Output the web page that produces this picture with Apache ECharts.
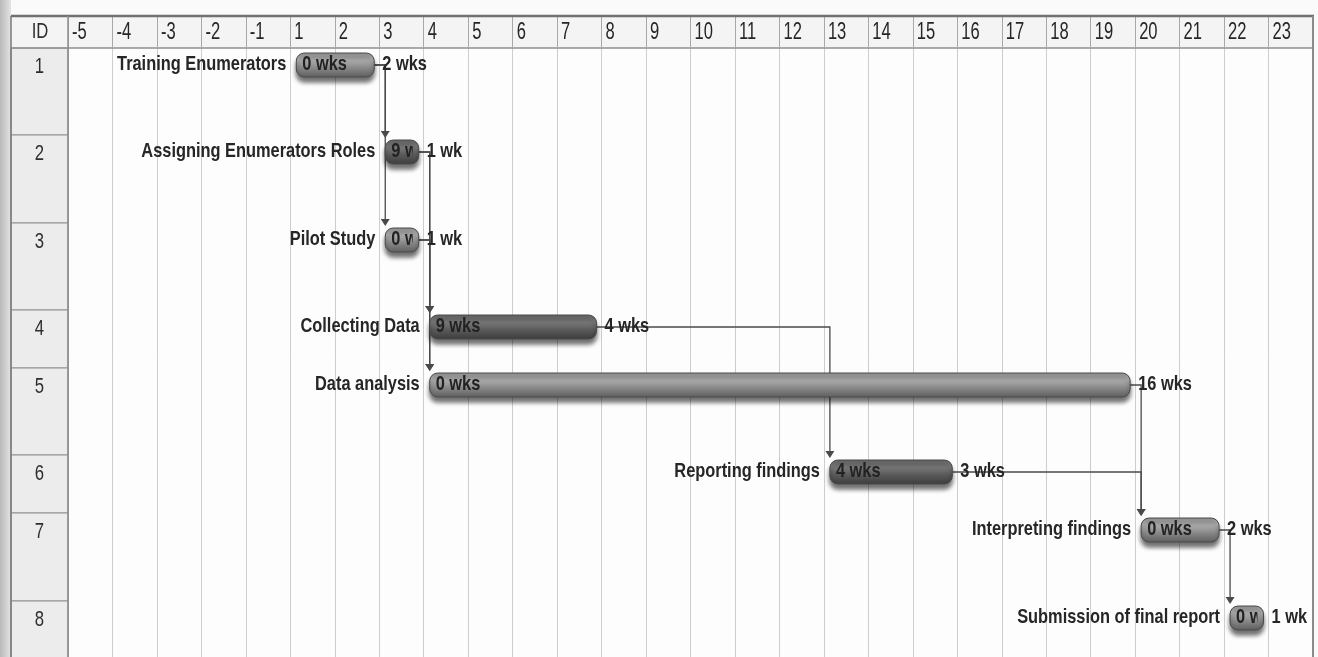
<!DOCTYPE html>
<html>
<head>
<meta charset="utf-8">
<title>Project schedule</title>
<script src="https://cdn.jsdelivr.net/npm/echarts@6/dist/echarts.min.js"></script>
<style>
  html, body { margin: 0; padding: 0; background: #fafafa; }
  #chart { width: 1318px; height: 657px; }
</style>
</head>
<body>
<div id="chart"></div>
<script>
// ---- schedule data ----
const tickLabels = ['-5', '-4', '-3', '-2', '-1', '1', '2', '3', '4', '5', '6', '7', '8', '9', '10',
  '11', '12', '13', '14', '15', '16', '17', '18', '19', '20', '21', '22', '23'];
const taskIds = [1, 2, 3, 4, 5, 6, 7, 8];
const taskNames = ['Training Enumerators', 'Assigning Enumerators Roles', 'Pilot Study', 'Collecting Data',
  'Data analysis', 'Reporting findings', 'Interpreting findings', 'Submission of final report'];
const startWeeks = [1, 3, 3, 4, 4, 13, 20, 22];
const durationWeeks = [2, 1, 1, 4, 16, 3, 2, 1];
const slackWeeks = [0, 9, 0, 9, 0, 4, 0, 0];
// predecessor -> successor (task indexes)
const links = [[0, 1], [0, 2], [1, 3], [2, 3], [1, 4], [2, 4], [3, 5], [4, 6], [5, 6], [6, 7]];

// ---- layout ----
const rowHeights = [87, 88, 87, 58, 87, 58, 88, 88];
const visibleHeight = 609;
const barOffset = 17;       // bar centre below the row top
const barHalf = 12;
const FONT = '"Liberation Sans", Arial, sans-serif';
const NARROW = 0.78;        // horizontal squeeze for the condensed task lettering

const rowTops = [];
rowHeights.reduce((acc, h) => { rowTops.push(acc); return acc + h; }, 0);

const colOf = w => tickLabels.indexOf(String(w));
const startCols = startWeeks.map(colOf);
const endCols = startCols.map((c, i) => c + durationWeeks[i]);
const durText = d => d + (d === 1 ? ' wk' : ' wks');

const barData = taskIds.map((id, i) => [startCols[i], endCols[i], rowTops[i], i]);
const linkData = links.map(([a, b]) => [endCols[a], rowTops[a], startCols[b], rowTops[b]]);
const idData = taskIds.map((id, i) => [0, rowTops[i], rowHeights[i], id]);
const headerData = tickLabels.map((t, i) => [i, 0]);

function barGradient(dark) {
  const c = dark
    ? ['#606060', '#7c7c7c', '#5b5b5b', '#3c3c3c']
    : ['#8c8c8c', '#b0b0b0', '#8a8a8a', '#5d5d5d'];
  return new echarts.graphic.LinearGradient(0, 0, 0, 1, [
    { offset: 0, color: c[0] }, { offset: 0.3, color: c[1] },
    { offset: 0.6, color: c[2] }, { offset: 1, color: c[3] }
  ]);
}

// condensed label anchored at (x, y)
function narrowText(text, x, y, align, extra, scale) {
  const sx = scale || NARROW;
  return {
    type: 'text', x: x, y: y, scaleX: sx, scaleY: 1,
    style: Object.assign({
      text: text, x: 0, y: 0, align: align, verticalAlign: 'middle',
      fontFamily: FONT, fontWeight: 'bold', fontSize: 21, fill: '#262626'
    }, extra || {})
  };
}

function renderBar(params, api) {
  const i = api.value(3);
  const s = api.value(0), e = api.value(1), top = api.value(2);
  const ps = api.coord([s, top + barOffset]);
  const pe = api.coord([e, top + barOffset]);
  const x0 = ps[0] + 6, x1 = pe[0] - 5, yc = ps[1];
  const dark = slackWeeks[i] > 0;
  return {
    type: 'group',
    children: [
      {
        type: 'rect',
        shape: { x: x0, y: yc - barHalf, width: x1 - x0, height: barHalf * 2, r: 8 },
        style: {
          fill: barGradient(dark), stroke: '#4a4a4a', lineWidth: 1,
          shadowBlur: 4, shadowOffsetY: 5, shadowColor: 'rgba(0,0,0,0.55)'
        }
      },
      {
        // slack label, cut off at the bar's right end
        type: 'group',
        clipPath: { type: 'rect', shape: { x: x0, y: yc - barHalf - 4, width: x1 - x0 - 6, height: barHalf * 2 + 8 } },
        children: [narrowText(slackWeeks[i] + ' wks', x0 + 6, yc - 1, 'left', { fill: '#222' })]
      },
      narrowText(durText(durationWeeks[i]), pe[0] + 3, yc - 1, 'left'),
      narrowText(taskNames[i], x0 - 10, yc - 1, 'right')
    ]
  };
}

function renderLink(params, api) {
  const pa = api.coord([api.value(0), api.value(1) + barOffset]);
  const pb = api.coord([api.value(2), api.value(3) + barOffset]);
  const xFrom = pa[0] - 5, yFrom = pa[1];
  const xTurn = pb[0] + 6;
  const tip = pb[1] - barHalf - 2;
  return {
    type: 'group',
    children: [
      {
        type: 'polyline',
        shape: { points: [[xFrom, yFrom], [xTurn, yFrom], [xTurn, tip - 6]] },
        style: { stroke: '#4a4a4a', lineWidth: 1.3, fill: null }
      },
      {
        type: 'polygon',
        shape: { points: [[xTurn - 4.5, tip - 7], [xTurn + 4.5, tip - 7], [xTurn, tip]] },
        style: { fill: '#4a4a4a' }
      }
    ]
  };
}

function renderId(params, api) {
  const top = api.coord([0, api.value(1)]);
  const bottom = api.coord([0, api.value(1) + api.value(2)]);
  const x0 = 11, x1 = top[0];
  return {
    type: 'group',
    children: [
      {
        type: 'rect',
        shape: { x: x0, y: top[1], width: x1 - x0, height: bottom[1] - top[1] },
        style: { fill: '#ececec', stroke: '#8f8f8f', lineWidth: 1.2 }
      },
      narrowText(String(api.value(3)), (x0 + x1) / 2, top[1] + 19, 'center',
        { fontWeight: 'normal', fontSize: 22, fill: '#2e2e2e' }, 0.76)
    ]
  };
}

// week numbers in the header band, left-aligned in each column
function renderHeader(params, api) {
  const p = api.coord([api.value(0), 0]);
  return narrowText(tickLabels[params.dataIndex], p[0] + 4, p[1] - 15, 'left',
    { fontWeight: 'normal', fontSize: 23, fill: '#262626' }, 0.72);
}

const chart = echarts.init(document.getElementById('chart'), null, { renderer: 'canvas' });

chart.setOption({
  backgroundColor: '#fafafa',
  animation: false,
  grid: { left: 68, right: 5, top: 48, bottom: 0 },
  xAxis: {
    type: 'value', position: 'top', min: 0, max: tickLabels.length, interval: 1,
    axisLine: { show: true, lineStyle: { color: '#8f8f8f', width: 1.5 } },
    axisTick: { show: true, length: 31, lineStyle: { color: '#a8a8a8' } },
    axisLabel: { show: false },
    splitLine: { show: true, lineStyle: { color: '#cdcdcd', width: 1 } }
  },
  yAxis: {
    type: 'value', inverse: true, min: 0, max: visibleHeight,
    axisLine: { show: false }, axisTick: { show: false }, axisLabel: { show: false },
    splitLine: { show: false }
  },
  graphic: [
    { type: 'rect', z: -10, shape: { x: 0, y: 0, width: 11, height: 657 },
      style: { fill: new echarts.graphic.LinearGradient(0, 0, 1, 0, [
        { offset: 0, color: '#b9b9b9' }, { offset: 1, color: '#e4e4e4' }]) } },
    { type: 'rect', z: -5, shape: { x: 11, y: 17, width: 1302, height: 31 }, style: { fill: '#f4f4f4' } },
    { type: 'rect', z: -5, shape: { x: 68, y: 48, width: 1245, height: 609 }, style: { fill: '#fdfdfd' } },
    { type: 'line', z: 50, shape: { x1: 11, y1: 16, x2: 1314, y2: 16 }, style: { stroke: '#707070', lineWidth: 2.5 } },
    { type: 'line', z: 50, shape: { x1: 11, y1: 16, x2: 11, y2: 657 }, style: { stroke: '#7a7a7a', lineWidth: 1.5 } },
    { type: 'line', z: 50, shape: { x1: 68, y1: 16, x2: 68, y2: 657 }, style: { stroke: '#8f8f8f', lineWidth: 1.5 } },
    { type: 'line', z: 50, shape: { x1: 1313, y1: 16, x2: 1313, y2: 657 }, style: { stroke: '#8a8a8a', lineWidth: 2 } },
    { type: 'line', z: 50, shape: { x1: 11, y1: 48, x2: 68, y2: 48 }, style: { stroke: '#8f8f8f', lineWidth: 1.5 } },
    { type: 'text', z: 50, x: 40, y: 32, scaleX: 0.76, style: { text: 'ID', x: 0, y: 0, align: 'center', verticalAlign: 'middle',
      fontFamily: FONT, fontSize: 22, fill: '#2e2e2e' } }
  ],
  series: [
    { type: 'custom', name: 'Header', renderItem: renderHeader, data: headerData, clip: false, z: 6,
      encode: { x: 0, y: 1 }, silent: true },
    { type: 'custom', name: 'ID', renderItem: renderId, data: idData, clip: false, z: 3,
      encode: { x: 0, y: 1 }, silent: true },
    { type: 'custom', name: 'Links', renderItem: renderLink, data: linkData, z: 4,
      encode: { x: [0, 2], y: [1, 3] }, silent: true },
    { type: 'custom', name: 'Tasks', renderItem: renderBar, data: barData, z: 5,
      encode: { x: [0, 1], y: 2 }, silent: true }
  ]
});
</script>
</body>
</html>
